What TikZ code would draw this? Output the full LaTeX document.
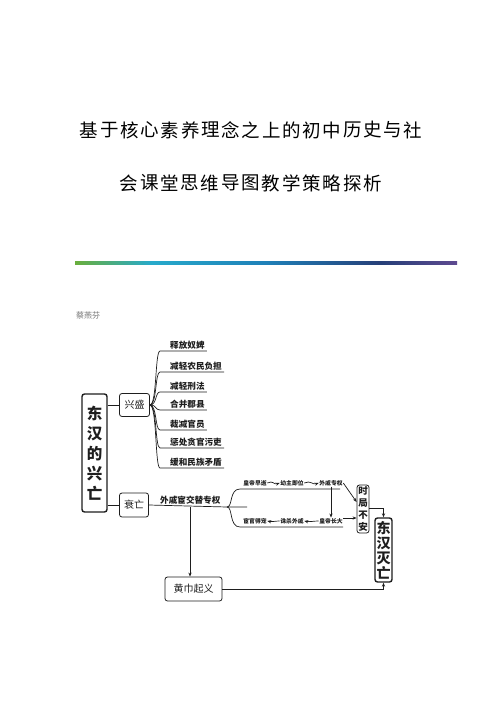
\documentclass[tikz,border=0pt]{standalone}
\usepackage{fontspec}
\setmainfont{Noto Sans CJK SC}
\usetikzlibrary{arrows.meta,calc}
\definecolor{gA}{HTML}{6AAE3C}
\definecolor{gB}{HTML}{27AACB}
\definecolor{gC}{HTML}{1F80B8}
\definecolor{gD}{HTML}{263F78}
\definecolor{gE}{HTML}{5E4A90}
\definecolor{ink}{HTML}{1E1E1E}
\pgfdeclarehorizontalshading{titlebar}{100bp}{color(0bp)=(gA); color(25bp)=(gA); color(35bp)=(gB); color(50bp)=(gC); color(65bp)=(gD); color(75bp)=(gE); color(100bp)=(gE)}
\tikzset{
  box/.style={draw=ink, rounded corners=2.5pt, line width=0.8pt, inner sep=0pt, text=ink, align=center},
  bigbox/.style={box, line width=1.4pt},
  item/.style={inner sep=0pt, text=ink, font=\fontsize{8.6}{9}\selectfont\bfseries},
  tiny/.style={inner sep=0.5pt, text=ink, font=\fontsize{5.8}{6}\selectfont\bfseries},
  ln/.style={draw=ink, line width=0.7pt},
  arr/.style={ln, -{Stealth[length=4pt,width=3.2pt]}},
  titlech/.style={inner sep=0pt, text=black, font=\fontsize{18.5}{18.5}\selectfont}
}
\begin{document}
\begin{tikzpicture}[x=1pt,y=-1pt]
\useasboundingbox (0,0) rectangle (500,707);
\fill[white] (0,0) rectangle (500,707);
% title
\foreach \c [count=\i from 0] in {基,于,核,心,素,养,理,念,之,上,的,初,中,历,史,与,社}
  {\node[titlech] (ta\i) at (89+20.25*\i,130) {\c};}
\foreach \c [count=\i from 0] in {会,课,堂,思,维,导,图,教,学,策,略,探,析}
  {\node[titlech] (tb\i) at (129+20.3*\i,183) {\c};}
% gradient rule
\shade[shading=titlebar] (75,261.5) rectangle (457,264.5);
% author
\node[anchor=west, inner sep=0pt, text=black!55, font=\fontsize{8}{8}\selectfont] (au) at (76,315) {蔡燕芬};

% root
\node[bigbox, minimum width=25pt, minimum height=118pt, font=\fontsize{15.5}{20}\selectfont\bfseries] (root) at (94.5,453) {东\\汉\\的\\兴\\亡};
% 兴盛
\node[box, minimum width=30pt, minimum height=23pt, font=\fontsize{10}{10}\selectfont] (xs) at (134.5,405) {兴盛};
\draw[ln] (root.east |- xs.west) -- (xs.west);
% items
\node[item, anchor=base west] (i1) at (170,348) {释放奴婢};
\node[item, anchor=base west] (i2) at (170,369) {减轻农民负担};
\node[item, anchor=base west] (i3) at (170,389) {减轻刑法};
\node[item, anchor=base west] (i4) at (170,407) {合并郡县};
\node[item, anchor=base west] (i5) at (170,427) {裁减官员};
\node[item, anchor=base west] (i6) at (170,445) {惩处贪官污吏};
\node[item, anchor=base west] (i7) at (170,465) {缓和民族矛盾};
\foreach \k/\y in {1/351,2/372,3/392,4/410,5/430,6/448,7/468}{
  \coordinate (u\k) at (160,\y);
  \draw[ln] (xs.east) .. controls (157,405) and (155,\y) .. (u\k) -- (i\k.east |- u\k) -- ++(2,0);
}
% 衰亡
\node[box, minimum width=29pt, minimum height=24pt, font=\fontsize{10}{10}\selectfont] (sw) at (134,505) {衰亡};
\draw[ln] (root.east |- sw.west) -- (sw.west);
\node[item, anchor=base west] (wq) at (160,503.5) {外戚宦交替专权};
\coordinate (fork) at (227,507);
\draw[ln] (sw.east) -- (fork) -- (247,507);
\draw[ln] (fork) .. controls (233,507) and (229,489) .. (240,489) -- (340,489);
\draw[ln] (fork) .. controls (233,507) and (229,527) .. (240,527) -- (343,527);
% upper row
\node[tiny] (a1) at (255,483) {皇帝早逝};
\node[tiny] (a2) at (292,483) {幼主即位};
\node[tiny] (a3) at (331,483) {外戚专权};
\draw[arr] (a1.east) .. controls +(6,-3) and +(-6,2) .. (a2.west);
\draw[arr] (a2.east) .. controls +(6,-3) and +(-6,2) .. (a3.west);
% lower row
\node[tiny] (b1) at (331,521) {皇帝长大};
\node[tiny] (b2) at (292,521) {诛杀外戚};
\node[tiny] (b3) at (255,521) {宦官得宠};
\draw[arr] (b1.west) .. controls +(-5,0) and +(5,1) .. (b2.east);
\draw[arr] (b2.west) .. controls +(-5,0) and +(5,1) .. (b3.east);
\draw[arr] (a3.south) -- (b1.north);
% 时局不安
\node[box, minimum width=12pt, minimum height=48pt, font=\fontsize{9.5}{12}\selectfont\bfseries] (sj) at (363,509) {时\\局\\不\\安};
\draw[arr] (a3.east) -- ($(sj.west)+(0,-7)$);
\draw[arr] ($(b1.east)+(0,-3)$) -- ($(b1.east -| sj.west)+(0,-3)$);
% 东汉灭亡
\node[bigbox, minimum width=17pt, minimum height=64pt, font=\fontsize{14}{15}\selectfont\bfseries] (dh) at (383.5,550) {东\\汉\\灭\\亡};
\draw[arr] ($(sj.east)+(0,-1)$) -| (dh.north);
% 黄巾起义
\node[box, minimum width=57pt, minimum height=24pt, font=\fontsize{10}{10}\selectfont] (hj) at (193.5,589) {黄巾起义};
\coordinate (dn) at (190,507);
\draw[arr] (dn) -- (dn |- hj.north);
\draw[arr] (hj.east) -| (dh.south);
\end{tikzpicture}
\end{document}
